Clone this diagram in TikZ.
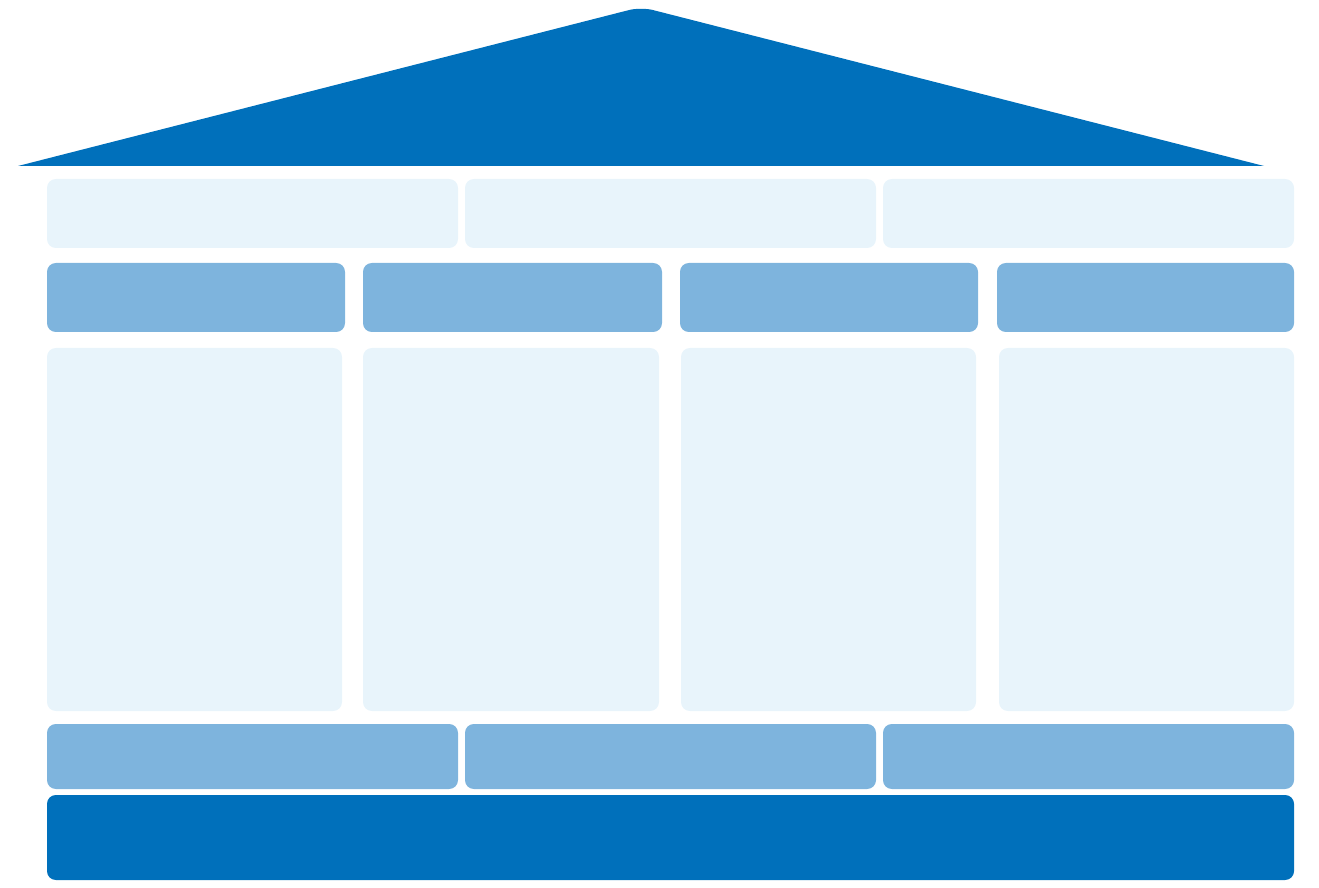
\documentclass[tikz,border=0pt]{standalone}
\definecolor{roofblue}{HTML}{0070BB}
\definecolor{midblue}{HTML}{7EB4DD}
\definecolor{paleblue}{HTML}{E8F4FB}
\tikzset{
  pale/.style={fill=paleblue,rounded corners=5pt},
  mid/.style={fill=midblue,rounded corners=5pt},
  dark/.style={fill=roofblue,rounded corners=5pt}
}
\begin{document}
\begin{tikzpicture}[x=0.02cm,y=-0.02cm]
\useasboundingbox (0,0) rectangle (1319,888);
% roof
\fill[roofblue] (18,166) [rounded corners=7pt] -- (641,7) [sharp corners] -- (1264,166) -- cycle;
% upper band
\fill[pale] (47,179) rectangle (458,248);
\fill[pale] (465,179) rectangle (876,248);
\fill[pale] (883,179) rectangle (1294,248);
% column heads
\fill[mid] (47,263) rectangle (345,332);
\fill[mid] (363,263) rectangle (662,332);
\fill[mid] (680,263) rectangle (978,332);
\fill[mid] (997,263) rectangle (1294,332);
% columns
\fill[pale] (47,348) rectangle (342,711);
\fill[pale] (363,348) rectangle (659,711);
\fill[pale] (681,348) rectangle (976,711);
\fill[pale] (999,348) rectangle (1294,711);
% lower band
\fill[mid] (47,724) rectangle (458,789);
\fill[mid] (465,724) rectangle (876,789);
\fill[mid] (883,724) rectangle (1294,789);
% foundation
\fill[dark] (47,795) rectangle (1294,880);
\end{tikzpicture}
\end{document}
